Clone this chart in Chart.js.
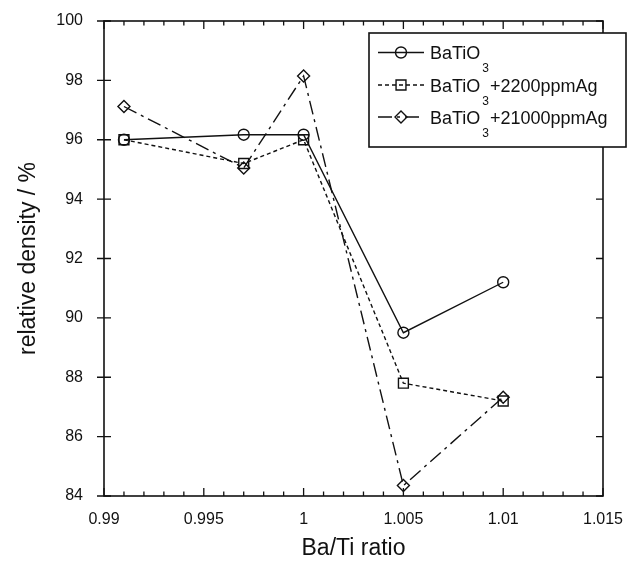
<!DOCTYPE html>
<html lang="en">
<head>
    <meta charset="UTF-8">
    <title>Relative density vs Ba/Ti ratio</title>
    <script src="https://cdn.jsdelivr.net/npm/chart.js@4.4.0/dist/chart.umd.min.js"></script>
    <style>
        html, body { margin: 0; padding: 0; background: #fff; }
    </style>
</head>
<body>
    <canvas id="myChart" width="638" height="566"></canvas>

    <script>
        // values
        const baTi = [0.991, 0.997, 1.0, 1.005, 1.01];
        const pureBT = [96.0, 96.17, 96.17, 89.5, 91.2];
        const ag2200 = [96.0, 95.2, 96.0, 87.8, 87.2];
        const ag21000 = [97.12, 95.05, 98.15, 84.35, 87.33];

        const xTicks = [0.99, 0.995, 1, 1.005, 1.01, 1.015];
        const xTickLabels = ['0.99', '0.995', '1', '1.005', '1.01', '1.015'];
        const yTicks = [84, 86, 88, 90, 92, 94, 96, 98, 100];

        const seriesNames = ['+2200ppmAg', '+21000ppmAg'];

        const ink = '#111';
        const font = 'Liberation Sans, Arial, sans-serif';

        function toPoints(ys) {
            return baTi.map((x, i) => ({x: x, y: ys[i]}));
        }

        const datasets = [
            {label: 'BaTiO3', data: toPoints(pureBT), pointStyle: 'circle', pointRadius: 5.5, borderDash: []},
            {label: 'BaTiO3' + seriesNames[0], data: toPoints(ag2200), pointStyle: 'rect', pointRadius: 7, borderDash: [4, 3]},
            {label: 'BaTiO3' + seriesNames[1], data: toPoints(ag21000), pointStyle: 'rectRot', pointRadius: 6, borderDash: [14, 5, 3, 5]}
        ].map(d => Object.assign(d, {
            showLine: true,
            borderColor: ink,
            borderWidth: 1.4,
            pointBorderColor: ink,
            pointBackgroundColor: 'rgba(0,0,0,0)',
            pointBorderWidth: 1.4,
            pointHoverRadius: d.pointRadius,
            tension: 0
        }));

        // box with ticks on all four sides
        const framePlugin = {
            id: 'frame',
            afterDraw(chart) {
                const ctx = chart.ctx;
                const a = chart.chartArea;
                const xs = chart.scales.x, ys = chart.scales.y;
                ctx.save();
                ctx.strokeStyle = ink;
                ctx.lineWidth = 1.6;
                ctx.strokeRect(a.left, a.top, a.right - a.left, a.bottom - a.top);
                ctx.lineWidth = 1.3;
                ctx.beginPath();
                xTicks.forEach((v, i) => {
                    const px = xs.getPixelForValue(v);
                    ctx.moveTo(px, a.bottom); ctx.lineTo(px, a.bottom - 8);
                    ctx.moveTo(px, a.top); ctx.lineTo(px, a.top + 8);
                    if (i < xTicks.length - 1) {
                        const step = (xTicks[i + 1] - v) / 5;
                        for (let k = 1; k < 5; k++) {
                            const mx = xs.getPixelForValue(v + k * step);
                            ctx.moveTo(mx, a.bottom); ctx.lineTo(mx, a.bottom - 4.5);
                            ctx.moveTo(mx, a.top); ctx.lineTo(mx, a.top + 4.5);
                        }
                    }
                });
                yTicks.forEach(v => {
                    const py = ys.getPixelForValue(v);
                    ctx.moveTo(a.left - 7, py); ctx.lineTo(a.left + 7, py);
                    ctx.moveTo(a.right, py); ctx.lineTo(a.right - 7, py);
                });
                ctx.stroke();
                ctx.restore();
            }
        };

        // legend box with subscripted formula
        const legendPlugin = {
            id: 'subLegend',
            afterDraw(chart) {
                const ctx = chart.ctx;
                const box = {left: 369, top: 33, right: 626, bottom: 147};
                ctx.save();
                ctx.fillStyle = '#fff';
                ctx.fillRect(box.left, box.top, box.right - box.left, box.bottom - box.top);
                ctx.strokeStyle = ink;
                ctx.lineWidth = 1.6;
                ctx.strokeRect(box.left, box.top, box.right - box.left, box.bottom - box.top);

                const rowY = [52.5, 85, 117];
                const tails = ['', seriesNames[0], seriesNames[1]];
                datasets.forEach((d, i) => {
                    const y = rowY[i];
                    ctx.strokeStyle = ink;
                    ctx.lineWidth = 1.4;
                    ctx.setLineDash(d.borderDash);
                    ctx.beginPath();
                    ctx.moveTo(378, y); ctx.lineTo(424, y);
                    ctx.stroke();
                    ctx.setLineDash([]);
                    ctx.fillStyle = 'rgba(0,0,0,0)';
                    Chart.helpers.drawPoint(ctx, {
                        pointStyle: d.pointStyle, radius: d.pointRadius,
                        borderWidth: 1.4, rotation: 0
                    }, 401, y);

                    ctx.fillStyle = ink;
                    ctx.textBaseline = 'alphabetic';
                    ctx.textAlign = 'left';
                    ctx.font = '18px ' + font;
                    let tx = 430;
                    ctx.fillText('BaTiO', tx, y + 6.5);
                    tx += ctx.measureText('BaTiO').width + 2;
                    ctx.font = '12px ' + font;
                    ctx.fillText('3', tx, y + 19.5);
                    tx += ctx.measureText('3').width + 1;
                    if (tails[i]) {
                        ctx.font = '18px ' + font;
                        ctx.fillText(tails[i], tx, y + 6.5);
                    }
                });
                ctx.restore();
            }
        };

        const ctx = document.getElementById('myChart').getContext('2d');
        const myChart = new Chart(ctx, {
            type: 'scatter',
            data: {datasets: datasets},
            options: {
                responsive: false,
                animation: false,
                layout: {padding: {top: 21, right: 35, left: 0, bottom: 0}},
                plugins: {
                    legend: {display: false},
                    tooltip: {enabled: false}
                },
                scales: {
                    x: {
                        type: 'linear',
                        min: 0.99,
                        max: 1.015,
                        grid: {display: false},
                        border: {display: false},
                        afterBuildTicks: scale => { scale.ticks = xTicks.map(v => ({value: v})); },
                        afterFit: scale => { scale.height = 70; },
                        ticks: {
                            color: ink,
                            font: {family: font, size: 16},
                            padding: 6,
                            maxRotation: 0,
                            callback: (value, index) => xTickLabels[index]
                        },
                        title: {
                            display: true,
                            text: 'Ba/Ti ratio',
                            color: ink,
                            font: {family: font, size: 23},
                            padding: {top: 0, bottom: 4}
                        }
                    },
                    y: {
                        type: 'linear',
                        min: 84,
                        max: 100,
                        // invisible tick marks only push the labels away from the axis
                        grid: {display: true, drawOnChartArea: false, drawTicks: true, tickLength: 21, color: 'rgba(0,0,0,0)'},
                        border: {display: false},
                        afterBuildTicks: scale => { scale.ticks = yTicks.map(v => ({value: v})); },
                        afterFit: scale => { scale.width = 104; },
                        ticks: {
                            color: ink,
                            font: {family: font, size: 16},
                            padding: 0,
                            callback: value => String(value)
                        },
                        title: {
                            display: true,
                            text: 'relative density / %',
                            color: ink,
                            font: {family: font, size: 23},
                            padding: {top: 15, bottom: 0}
                        }
                    }
                }
            },
            plugins: [framePlugin, legendPlugin]
        });
    </script>
</body>
</html>
